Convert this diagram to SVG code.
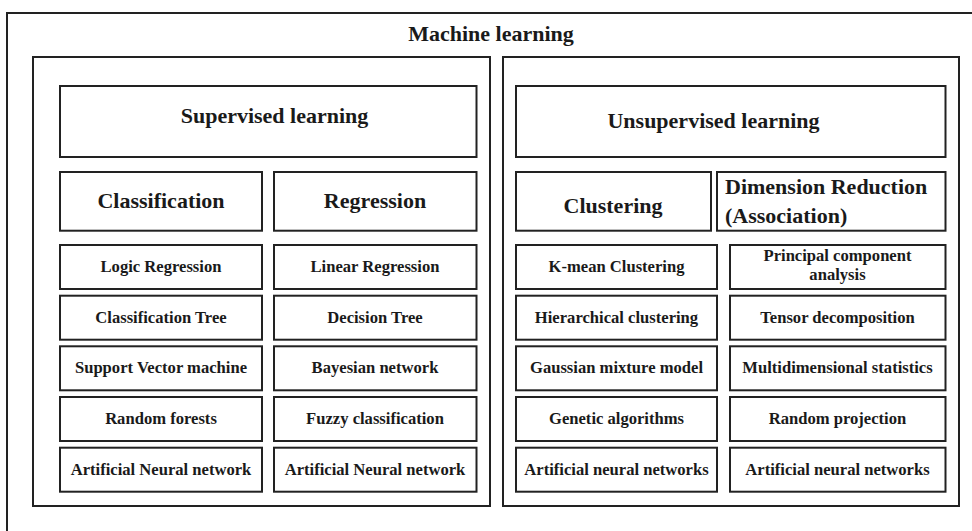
<svg xmlns="http://www.w3.org/2000/svg" width="972" height="531" viewBox="0 0 972 531">
<style>
rect{fill:#fff;stroke:#222;stroke-width:2}
text{font-family:"Liberation Serif","Times New Roman",serif;font-weight:bold;fill:#1a1a1a;text-anchor:middle}
.h{font-size:22px}
.s{font-size:16.6px}
</style>
<rect x="0" y="0" width="972" height="531" style="stroke:none"/>
<g id="machine-learning">
<path d="M7,545 V13 H985" fill="none" stroke="#222" stroke-width="2"/>
<text class="h" x="491" y="41">Machine learning</text>
</g>
<g id="supervised-panel"><rect x="33" y="57" width="457" height="449"/></g>
<g id="unsupervised-panel"><rect x="503" y="57" width="456" height="449"/></g>
<g id="supervised"><rect x="60" y="86" width="416.5" height="71"/><text class="h" x="274.5" y="123">Supervised learning</text></g>
<g id="unsupervised"><rect x="516" y="86" width="429.5" height="71"/><text class="h" x="713.5" y="128">Unsupervised learning</text></g>
<g id="classification"><rect x="60" y="172" width="202" height="58.7"/><text class="h" x="161" y="208">Classification</text></g>
<g id="regression"><rect x="274" y="172" width="202.5" height="58.7"/><text class="h" x="375" y="208">Regression</text></g>
<g id="clustering"><rect x="516" y="172" width="195" height="58.7"/><text class="h" x="613" y="213">Clustering</text></g>
<g id="dimension-reduction"><rect x="717" y="172" width="228.5" height="58.7"/><text class="h" x="725" y="194" style="text-anchor:start">Dimension Reduction</text><text class="h" x="725" y="223" style="text-anchor:start">(Association)</text></g>

<g id="logic-regression"><rect x="60" y="245" width="202" height="44"/><text class="s" x="161" y="272">Logic Regression</text></g>
<g id="classification-tree"><rect x="60" y="295.7" width="202" height="44"/><text class="s" x="161" y="322.5">Classification Tree</text></g>
<g id="svm"><rect x="60" y="346.3" width="202" height="44"/><text class="s" x="161" y="373">Support Vector machine</text></g>
<g id="random-forests"><rect x="60" y="397" width="202" height="44"/><text class="s" x="161" y="424">Random forests</text></g>
<g id="ann-cls"><rect x="60" y="447.7" width="202" height="44"/><text class="s" x="161" y="475">Artificial Neural network</text></g>

<g id="linear-regression"><rect x="274" y="245" width="202.5" height="44"/><text class="s" x="375" y="272">Linear Regression</text></g>
<g id="decision-tree"><rect x="274" y="295.7" width="202.5" height="44"/><text class="s" x="375" y="322.5">Decision Tree</text></g>
<g id="bayesian-network"><rect x="274" y="346.3" width="202.5" height="44"/><text class="s" x="375" y="373">Bayesian network</text></g>
<g id="fuzzy-classification"><rect x="274" y="397" width="202.5" height="44"/><text class="s" x="375" y="424">Fuzzy classification</text></g>
<g id="ann-reg"><rect x="274" y="447.7" width="202.5" height="44"/><text class="s" x="375" y="475">Artificial Neural network</text></g>

<g id="kmean"><rect x="516" y="245" width="201" height="44"/><text class="s" x="616.5" y="272">K-mean Clustering</text></g>
<g id="hierarchical"><rect x="516" y="295.7" width="201" height="44"/><text class="s" x="616.5" y="322.5">Hierarchical clustering</text></g>
<g id="gmm"><rect x="516" y="346.3" width="201" height="44"/><text class="s" x="616.5" y="373">Gaussian mixture model</text></g>
<g id="genetic"><rect x="516" y="397" width="201" height="44"/><text class="s" x="616.5" y="424">Genetic algorithms</text></g>
<g id="ann-clu"><rect x="516" y="447.7" width="201" height="44"/><text class="s" x="616.5" y="475">Artificial neural networks</text></g>

<g id="pca"><rect x="730" y="245" width="215.5" height="44"/><text class="s" x="837.5" y="261">Principal component</text><text class="s" x="837.5" y="280">analysis</text></g>
<g id="tensor"><rect x="730" y="295.7" width="215.5" height="44"/><text class="s" x="837.5" y="322.5">Tensor decomposition</text></g>
<g id="multidim"><rect x="730" y="346.3" width="215.5" height="44"/><text class="s" x="837.5" y="373">Multidimensional statistics</text></g>
<g id="random-projection"><rect x="730" y="397" width="215.5" height="44"/><text class="s" x="837.5" y="424">Random projection</text></g>
<g id="ann-dim"><rect x="730" y="447.7" width="215.5" height="44"/><text class="s" x="837.5" y="475">Artificial neural networks</text></g>
<g id="connectors"></g>
</svg>
